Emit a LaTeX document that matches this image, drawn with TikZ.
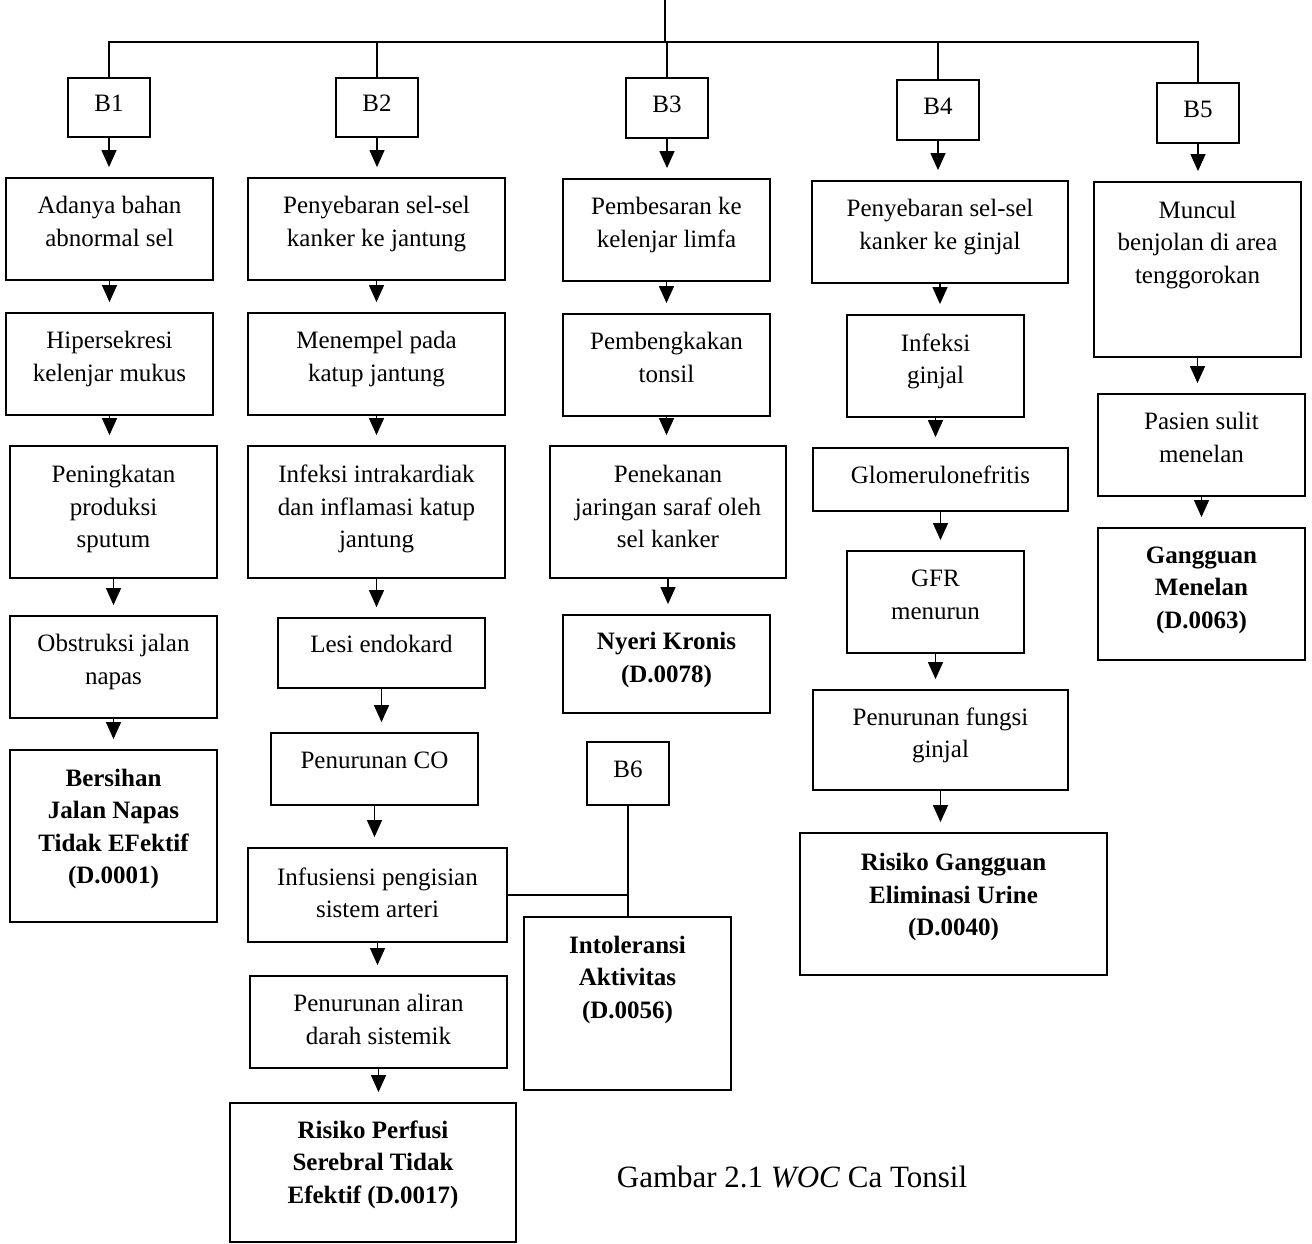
\documentclass[tikz,border=0pt]{standalone}
\usepackage{fontspec}
\setmainfont{Liberation Serif}
\usetikzlibrary{arrows.meta}
\def\liftd{15pt}
\tikzset{
	box/.style={draw,line width=1.8pt,align=center,inner sep=1pt,
		font=\fontsize{25}{32.5}\selectfont,
		execute at end node={\rule[-\liftd]{0pt}{\liftd}}},
	dx/.style={box,font=\bfseries\fontsize{25}{32.5}\selectfont},
	wh/.style 2 args={minimum width=#1pt,minimum height=#2pt},
	lift/.code={\def\liftd{#1}},
	arr/.style={line width=1.3pt,-{Triangle[width=15pt,length=17pt]},shorten >=10pt},
	ln/.style={line width=1.3pt}
}
\begin{document}
\begin{tikzpicture}[x=1pt,y=-1pt]
	\useasboundingbox (0,0) rectangle (1312,1244);
	% B boxes
	\node[box,wh={82}{59},lift=8pt] (b1) at (109,107.5) {B1};
	\node[box,wh={82}{59},lift=8pt] (b2) at (377,107.5) {B2};
	\node[box,wh={82}{60},lift=8pt] (b3) at (667,108) {B3};
	\node[box,wh={82}{60},lift=8pt] (b4) at (938,110) {B4};
	\node[box,wh={82}{60},lift=8pt] (b5) at (1198,113) {B5};
	\node[box,wh={82}{63},lift=8pt] (b6) at (628,773.5) {B6};
	% B1
	\node[box,wh={207}{102}] (n11) at (109.5,229) {Adanya bahan\\abnormal sel};
	\node[box,wh={207}{102}] (n12) at (109.5,364) {Hipersekresi\\kelenjar mukus};
	\node[box,wh={207}{132},lift=11pt] (n13) at (113.5,512) {Peningkatan\\produksi\\sputum};
	\node[box,wh={207}{102}] (n14) at (113.5,667) {Obstruksi jalan\\napas};
	\node[dx,wh={207}{172},lift=19pt] (n15) at (113.5,836) {Bersihan\\Jalan Napas\\Tidak EFektif\\(D.0001)};
	% B2
	\node[box,wh={257}{102}] (n21) at (376.5,229) {Penyebaran sel-sel\\kanker ke jantung};
	\node[box,wh={257}{102}] (n22) at (376.5,364) {Menempel pada\\katup jantung};
	\node[box,wh={257}{132},lift=11pt] (n23) at (376.5,512) {Infeksi intrakardiak\\dan inflamasi katup\\jantung};
	\node[box,wh={207}{70},lift=19pt] (n24) at (381.5,653) {Lesi endokard};
	\node[box,wh={207}{72},lift=17pt] (n25) at (374.5,769) {Penurunan CO};
	\node[box,wh={259}{94},lift=5pt] (n26) at (377.5,895) {Infusiensi pengisian\\sistem arteri};
	\node[box,wh={257}{92},lift=5pt] (n27) at (378.5,1022) {Penurunan aliran\\darah sistemik};
	\node[dx,wh={286}{139},lift=21pt] (n28) at (373,1172.5) {Risiko Perfusi\\Serebral Tidak\\Efektif (D.0017)};
	% B3
	\node[box,wh={207}{102}] (n31) at (666.5,230) {Pembesaran ke\\kelenjar limfa};
	\node[box,wh={207}{102}] (n32) at (666.5,365) {Pembengkakan\\tonsil};
	\node[box,wh={236}{132},lift=11pt] (n33) at (668,512) {Penekanan\\jaringan saraf oleh\\sel kanker};
	\node[dx,wh={207}{98},lift=13pt] (n34) at (666.5,664) {Nyeri Kronis\\(D.0078)};
	% B6
	\node[dx,wh={207}{173},lift=53pt] (n61) at (627.5,1003.5) {Intoleransi\\Aktivitas\\(D.0056)};
	% B4
	\node[box,wh={256}{102}] (n41) at (940,232) {Penyebaran sel-sel\\kanker ke ginjal};
	\node[box,wh={177}{102}] (n42) at (935.5,366) {Infeksi\\ginjal};
	\node[box,wh={255}{63},lift=9pt] (n43) at (940.5,479.5) {Glomerulonefritis};
	\node[box,wh={177}{102}] (n44) at (935.5,602) {GFR\\menurun};
	\node[box,wh={255}{100}] (n45) at (940.5,740) {Penurunan fungsi\\ginjal};
	\node[dx,wh={307}{142},lift=19pt] (n46) at (953.5,904) {Risiko Gangguan\\Eliminasi Urine\\(D.0040)};
	% B5
	\node[box,wh={207}{175},lift=55pt] (n51) at (1197.5,269.5) {Muncul\\benjolan di area\\tenggorokan};
	\node[box,wh={207}{102}] (n52) at (1201.5,445) {Pasien sulit\\menelan};
	\node[dx,wh={207}{132},lift=13pt] (n53) at (1201.5,594) {Gangguan\\Menelan\\(D.0063)};
	% caption
	\node[font=\fontsize{31}{36}\selectfont] (cap) at (792,1177) {Gambar 2.1 \textit{WOC} Ca Tonsil};
	% bus
	\coordinate (top) at (665,0);
	\coordinate (bus) at (665,42);
	\draw[ln] (top) -- (bus);
	\draw[ln] (b1) |- (bus) -| (b5);
	\foreach \k in {2,3,4}
	{\draw[ln] (b\k) -- (b\k |- bus);}
	% arrows
	\foreach \a/\b in {b1/n11,n11/n12,n12/n13,n13/n14,n14/n15,
		b2/n21,n21/n22,n22/n23,n23/n24,n24/n25,n25/n26,n26/n27,n27/n28,
		b3/n31,n31/n32,n32/n33,n33/n34,
		b4/n41,n41/n42,n42/n43,n43/n44,n44/n45,n45/n46,
		b5/n51,n51/n52,n52/n53}
	{\draw[arr] (\a) -- (\a |- \b.north);}
	% B6 links
	\draw[ln] (b6) -- (b6 |- n61.north);
	\draw[ln] (n26.east) -- (n26.east -| b6);
\end{tikzpicture}
\end{document}
